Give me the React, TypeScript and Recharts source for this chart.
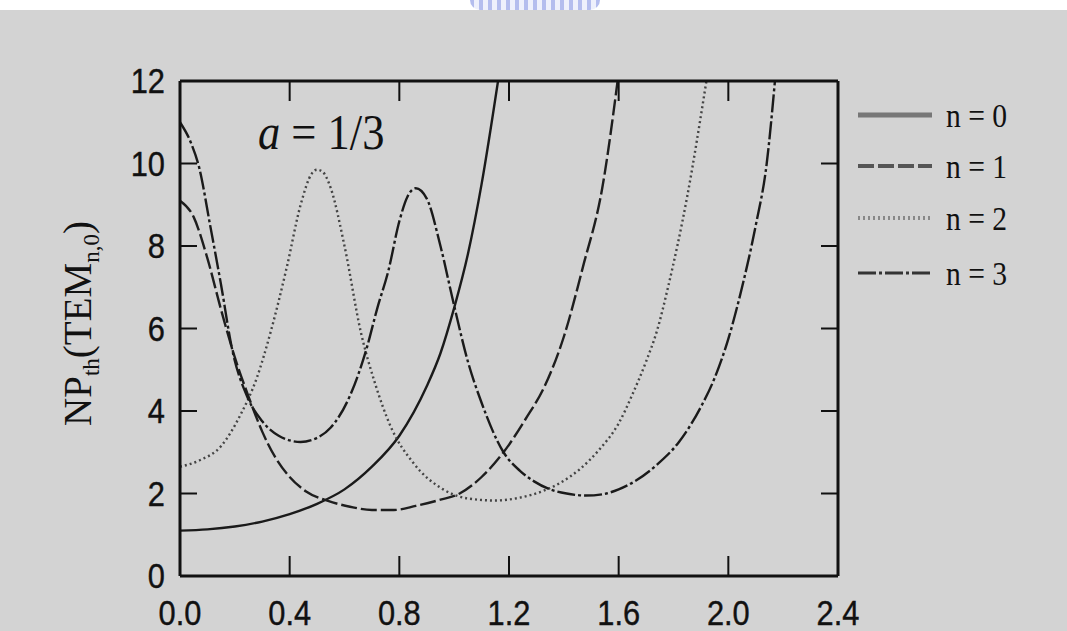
import { Line, LineChart, XAxis, YAxis } from "recharts";

const xTicks = [0, 0.4, 0.8, 1.2, 1.6, 2.0, 2.4];
const yTicks = [0, 2, 4, 6, 8, 10, 12];

const n0 = [
  { x: 0, y: 1.1 }, { x: 0.1, y: 1.13 }, { x: 0.2, y: 1.2 }, { x: 0.3, y: 1.32 },
  { x: 0.4, y: 1.5 }, { x: 0.5, y: 1.75 }, { x: 0.6, y: 2.1 }, { x: 0.7, y: 2.65 },
  { x: 0.8, y: 3.4 }, { x: 0.9, y: 4.6 }, { x: 0.95, y: 5.4 }, { x: 1.0, y: 6.5 },
  { x: 1.05, y: 7.8 }, { x: 1.1, y: 9.5 }, { x: 1.16, y: 12 },
];

const n1 = [
  { x: 0, y: 9.1 }, { x: 0.05, y: 8.7 }, { x: 0.1, y: 7.7 }, { x: 0.15, y: 6.45 },
  { x: 0.2, y: 5.3 }, { x: 0.25, y: 4.35 }, { x: 0.3, y: 3.5 }, { x: 0.35, y: 2.85 },
  { x: 0.4, y: 2.4 }, { x: 0.46, y: 2.05 }, { x: 0.54, y: 1.82 }, { x: 0.62, y: 1.68 },
  { x: 0.7, y: 1.6 }, { x: 0.78, y: 1.6 }, { x: 0.86, y: 1.7 }, { x: 0.95, y: 1.85 },
  { x: 1.02, y: 2.0 }, { x: 1.1, y: 2.4 }, { x: 1.18, y: 3.0 }, { x: 1.26, y: 3.8 },
  { x: 1.33, y: 4.6 }, { x: 1.4, y: 5.8 }, { x: 1.47, y: 7.5 }, { x: 1.54, y: 9.4 },
  { x: 1.6, y: 12.2 },
];

const n2 = [
  { x: 0, y: 2.65 }, { x: 0.07, y: 2.8 }, { x: 0.15, y: 3.15 }, { x: 0.22, y: 3.9 },
  { x: 0.28, y: 4.8 }, { x: 0.33, y: 5.9 }, { x: 0.39, y: 7.5 }, { x: 0.44, y: 9.0 },
  { x: 0.48, y: 9.75 }, { x: 0.5, y: 9.85 }, { x: 0.52, y: 9.8 }, { x: 0.55, y: 9.4 },
  { x: 0.6, y: 8.0 }, { x: 0.66, y: 5.9 }, { x: 0.71, y: 4.7 }, { x: 0.77, y: 3.6 },
  { x: 0.85, y: 2.75 }, { x: 0.96, y: 2.1 }, { x: 1.05, y: 1.88 }, { x: 1.15, y: 1.83 },
  { x: 1.24, y: 1.9 }, { x: 1.32, y: 2.05 }, { x: 1.39, y: 2.27 }, { x: 1.46, y: 2.6 },
  { x: 1.53, y: 3.07 }, { x: 1.6, y: 3.7 }, { x: 1.65, y: 4.4 }, { x: 1.7, y: 5.2 },
  { x: 1.74, y: 5.95 }, { x: 1.78, y: 7.0 }, { x: 1.85, y: 9.2 }, { x: 1.92, y: 12 },
];

const n3 = [
  { x: 0, y: 11.0 }, { x: 0.04, y: 10.5 }, { x: 0.07, y: 9.9 }, { x: 0.11, y: 8.5 },
  { x: 0.15, y: 7.05 }, { x: 0.19, y: 5.5 }, { x: 0.245, y: 4.35 }, { x: 0.3, y: 3.75 },
  { x: 0.36, y: 3.4 }, { x: 0.44, y: 3.25 }, { x: 0.5, y: 3.35 }, { x: 0.55, y: 3.6 },
  { x: 0.62, y: 4.37 }, { x: 0.68, y: 5.5 }, { x: 0.72, y: 6.5 }, { x: 0.76, y: 7.4 },
  { x: 0.8, y: 8.6 }, { x: 0.83, y: 9.2 }, { x: 0.86, y: 9.4 }, { x: 0.9, y: 9.15 },
  { x: 0.95, y: 8.0 }, { x: 1.0, y: 6.55 }, { x: 1.05, y: 5.2 }, { x: 1.1, y: 4.2 },
  { x: 1.18, y: 3.0 }, { x: 1.24, y: 2.55 }, { x: 1.29, y: 2.3 }, { x: 1.35, y: 2.1 },
  { x: 1.41, y: 2.0 }, { x: 1.48, y: 1.95 }, { x: 1.54, y: 1.98 }, { x: 1.6, y: 2.1 },
  { x: 1.66, y: 2.3 }, { x: 1.74, y: 2.7 }, { x: 1.82, y: 3.25 }, { x: 1.9, y: 4.1 },
  { x: 1.95, y: 4.8 }, { x: 2.0, y: 5.75 }, { x: 2.05, y: 7.0 }, { x: 2.1, y: 8.5 },
  { x: 2.14, y: 10.0 }, { x: 2.17, y: 12 },
];

const series = [
  { key: "n0", name: "n = 0", data: n0, color: "#1a1a1a", dash: undefined, legendColor: "#777", legendWidth: 5 },
  { key: "n1", name: "n = 1", data: n1, color: "#1e1e1e", dash: "16 4", legendColor: "#555", legendWidth: 4 },
  { key: "n2", name: "n = 2", data: n2, color: "#444", dash: "2 3", legendColor: "#888", legendWidth: 4 },
  { key: "n3", name: "n = 3", data: n3, color: "#1a1a1a", dash: "18 3 3 3", legendColor: "#333", legendWidth: 3 },
];

const SANS = "'Liberation Sans', Arial, sans-serif";
const SERIF = "'Liberation Serif', 'Times New Roman', serif";
const AXIS = "#111";

function squeeze(x: number, k = 0.88) {
  return `translate(${x} 0) scale(${k} 1) translate(${-x} 0)`;
}

function BottomTick({ x, y, payload }: any) {
  return (
    <g>
      <line x1={x} x2={x} y1={y} y2={y - 20} stroke={AXIS} strokeWidth={2} />
      <text x={x} y={y + 49} textAnchor="middle" fontSize={35} fontFamily={SANS} fill="#111" stroke="#111" strokeWidth={0.4} transform={squeeze(x)}>
        {Number(payload.value).toFixed(1)}
      </text>
    </g>
  );
}

function TopTick({ x, y }: any) {
  return <line x1={x} x2={x} y1={y} y2={y + 20} stroke={AXIS} strokeWidth={2} />;
}

function LeftTick({ x, y, payload }: any) {
  return (
    <g>
      <line x1={x} x2={x + 17} y1={y} y2={y} stroke={AXIS} strokeWidth={2} />
      <text x={x - 15} y={y + 12.5} textAnchor="end" fontSize={35} fontFamily={SANS} fill="#111" stroke="#111" strokeWidth={0.4} transform={squeeze(x - 15)}>
        {payload.value}
      </text>
    </g>
  );
}

function RightTick({ x, y }: any) {
  return <line x1={x} x2={x - 17} y1={y} y2={y} stroke={AXIS} strokeWidth={2} />;
}

function YTitle({ viewBox }: any) {
  const cy = viewBox.y + viewBox.height / 2 - 5;
  const cx = 91;
  return (
    <text
      x={cx}
      y={cy}
      textAnchor="middle"
      fontSize={39}
      fontFamily={SERIF}
      fill="#111"
      transform={`rotate(-90 ${cx} ${cy})`}
    >
      NP
      <tspan fontSize={23} dy={8}>th</tspan>
      <tspan dy={-8}>(TEM</tspan>
      <tspan fontSize={23} dy={8}>n,0</tspan>
      <tspan dy={-8}>)</tspan>
    </text>
  );
}

function Overlay() {
  const rows = [115, 166, 218, 273];
  return (
    <svg width={1067} height={631} style={{ position: "absolute", left: 0, top: 0, pointerEvents: "none" }}>
      <text x={258} y={149} fontSize={50} fontFamily={SERIF} fill="#111" transform={squeeze(258, 0.89)}>
        <tspan fontStyle="italic">a</tspan> = 1/3
      </text>
      {series.map((s, i) => (
        <g key={s.key}>
          <line
            x1={858}
            x2={932}
            y1={rows[i]}
            y2={rows[i]}
            stroke={s.legendColor}
            strokeWidth={s.legendWidth}
            strokeDasharray={s.dash}
          />
          <text x={946} y={rows[i] + 12} fontSize={34} fontFamily={SERIF} fill="#111" transform={squeeze(946, 0.87)}>
            {s.name}
          </text>
        </g>
      ))}
    </svg>
  );
}

export default function App() {
  return (
    <div style={{ position: "relative", width: 1067, height: 631, background: "#d3d3d3", overflow: "hidden" }}>
      <style>{"body{margin:0}"}</style>
      <div style={{ position: "absolute", left: 0, top: 0, width: 1067, height: 10, background: "#fff" }} />
      <div
        style={{
          position: "absolute",
          left: 470,
          top: 0,
          width: 130,
          height: 10,
          borderRadius: "0 0 60px 60px",
          background: "repeating-linear-gradient(90deg, #b4bdee 0 4px, #eef0fc 4px 9px)",
        }}
      />
      <LineChart
        width={1067}
        height={631}
        margin={{ top: 80, right: 228, bottom: 15, left: 120 }}
        style={{ position: "absolute", left: 0, top: 0 }}
      >
        <XAxis
          xAxisId="b"
          type="number"
          dataKey="x"
          domain={[0, 2.4]}
          ticks={xTicks}
          interval={0}
          allowDataOverflow
          height={40}
          tickSize={0}
          tickMargin={0}
          tickLine={false}
          axisLine={{ stroke: AXIS, strokeWidth: 3 }}
          tick={<BottomTick />}
        />
        <XAxis
          xAxisId="t"
          orientation="top"
          type="number"
          dataKey="x"
          domain={[0, 2.4]}
          ticks={xTicks}
          interval={0}
          allowDataOverflow
          height={1}
          tickSize={0}
          tickMargin={0}
          tickLine={false}
          axisLine={{ stroke: AXIS, strokeWidth: 3 }}
          tick={<TopTick />}
        />
        <YAxis
          yAxisId="l"
          type="number"
          domain={[0, 12]}
          ticks={yTicks}
          interval={0}
          allowDataOverflow
          width={60}
          tickSize={0}
          tickMargin={0}
          tickLine={false}
          axisLine={{ stroke: AXIS, strokeWidth: 3 }}
          tick={<LeftTick />}
          label={{ content: <YTitle /> }}
        />
        <YAxis
          yAxisId="r"
          orientation="right"
          type="number"
          domain={[0, 12]}
          ticks={yTicks}
          interval={0}
          allowDataOverflow
          width={1}
          tickSize={0}
          tickMargin={0}
          tickLine={false}
          axisLine={{ stroke: AXIS, strokeWidth: 3 }}
          tick={<RightTick />}
        />
        {series.map((s) => (
          <Line
            key={s.key}
            xAxisId="b"
            yAxisId="l"
            data={s.data}
            dataKey="y"
            type="monotone"
            stroke={s.color}
            strokeWidth={2.4}
            strokeDasharray={s.dash}
            dot={false}
            activeDot={false}
            isAnimationActive={false}
          />
        ))}
      </LineChart>
      <Overlay />
    </div>
  );
}
